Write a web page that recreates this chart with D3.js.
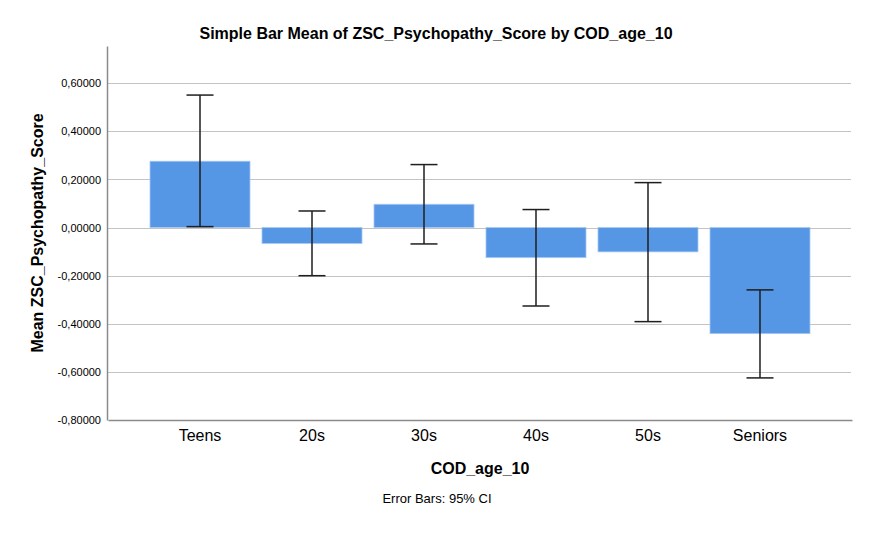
<!DOCTYPE html>
<html>
<head>
<meta charset="utf-8">
<script src="https://cdn.jsdelivr.net/npm/d3@7"></script>
<style>
  body { margin: 0; background: #fff; }
  svg { font-family: "Liberation Sans", Arial, sans-serif; }
</style>
</head>
<body>
<svg id="chart" width="886" height="537"></svg>
<script>
// Chart data
const categories = ['Teens', '20s', '30s', '40s', '50s', 'Seniors'];
const means = [0.276, -0.066, 0.097, -0.125, -0.101, -0.441];
const ciLower = [0.004, -0.200, -0.068, -0.326, -0.391, -0.625];
const ciUpper = [0.551, 0.069, 0.262, 0.075, 0.187, -0.259];
const yTicks = [-0.8, -0.6, -0.4, -0.2, 0, 0.2, 0.4, 0.6];

const svg = d3.select('#chart');
const margin = { top: 46, right: 35, bottom: 117, left: 107 };
const width = 886, height = 537;

const x = d3.scaleBand()
  .domain(categories)
  .range([margin.left + 1, width - margin.right + 1])
  .paddingInner(0.107)
  .paddingOuter(0.375);

const y = d3.scaleLinear()
  .domain([-0.8, 0.755])
  .range([height - margin.bottom, margin.top]);

const fmt = (v) => d3.format('.5f')(v).replace('.', ',').replace('−', '-');

// Gridlines
svg.append('g')
  .selectAll('line')
  .data(yTicks.filter((t) => t > -0.8))
  .enter()
  .append('line')
  .attr('x1', margin.left)
  .attr('x2', width - margin.right)
  .attr('y1', (d) => Math.round(y(d)) + 0.5)
  .attr('y2', (d) => Math.round(y(d)) + 0.5)
  .attr('stroke', '#c4c4c4')
  .attr('stroke-width', 1);

// Bars
const data = categories.map((c, i) => ({ cat: c, mean: means[i], lo: ciLower[i], hi: ciUpper[i] }));

svg.append('g')
  .selectAll('rect')
  .data(data)
  .enter()
  .append('rect')
  .attr('x', (d) => x(d.cat))
  .attr('width', x.bandwidth())
  .attr('y', (d) => y(Math.max(0, d.mean)))
  .attr('height', (d) => Math.abs(y(d.mean) - y(0)))
  .attr('fill', '#5596e5')
  .attr('stroke', '#a9c9f2')
  .attr('stroke-width', 0.8);

// Error bars
const err = svg.append('g').attr('stroke', '#1e1e1e').attr('stroke-width', 1.5);
const cap = 13.5;

data.forEach((d) => {
  const cx = x(d.cat) + x.bandwidth() / 2;
  err.append('line').attr('x1', cx).attr('x2', cx).attr('y1', y(d.hi)).attr('y2', y(d.lo));
  err.append('line').attr('x1', cx - cap).attr('x2', cx + cap).attr('y1', y(d.hi)).attr('y2', y(d.hi));
  err.append('line').attr('x1', cx - cap).attr('x2', cx + cap).attr('y1', y(d.lo)).attr('y2', y(d.lo));
});

// Y axis
const yAxis = svg.append('g')
  .attr('transform', `translate(${margin.left},0)`)
  .call(d3.axisLeft(y).tickValues(yTicks).tickFormat(fmt).tickSize(0).tickPadding(6));
yAxis.select('.domain').attr('stroke', '#8a8a8a').attr('stroke-width', 1.5);
yAxis.selectAll('text').attr('font-size', 11).attr('fill', '#000')
  .attr('font-family', '"Liberation Sans", Arial, sans-serif');

// X axis
const xAxis = svg.append('g')
  .attr('transform', `translate(0,${height - margin.bottom})`)
  .call(d3.axisBottom(x).tickSize(0).tickPadding(10));
xAxis.select('.domain').attr('stroke', '#8a8a8a').attr('stroke-width', 1.5);
xAxis.selectAll('text').attr('font-size', 16).attr('fill', '#000')
  .attr('font-family', '"Liberation Sans", Arial, sans-serif');

// Titles
svg.append('text')
  .attr('x', 436)
  .attr('y', 39)
  .attr('text-anchor', 'middle')
  .attr('font-size', 16)
  .attr('font-weight', 'bold')
  .text('Simple Bar Mean of ZSC_Psychopathy_Score by COD_age_10');

svg.append('text')
  .attr('x', (margin.left + width - margin.right) / 2 + 1)
  .attr('y', 474)
  .attr('text-anchor', 'middle')
  .attr('font-size', 16)
  .attr('font-weight', 'bold')
  .text('COD_age_10');

svg.append('text')
  .attr('transform', `translate(43,${(margin.top + height - margin.bottom) / 2}) rotate(-90)`)
  .attr('text-anchor', 'middle')
  .attr('font-size', 16)
  .attr('font-weight', 'bold')
  .text('Mean ZSC_Psychopathy_Score');

svg.append('text')
  .attr('x', 437)
  .attr('y', 503)
  .attr('text-anchor', 'middle')
  .attr('font-size', 13)
  .text('Error Bars: 95% CI');
</script>
</body>
</html>
